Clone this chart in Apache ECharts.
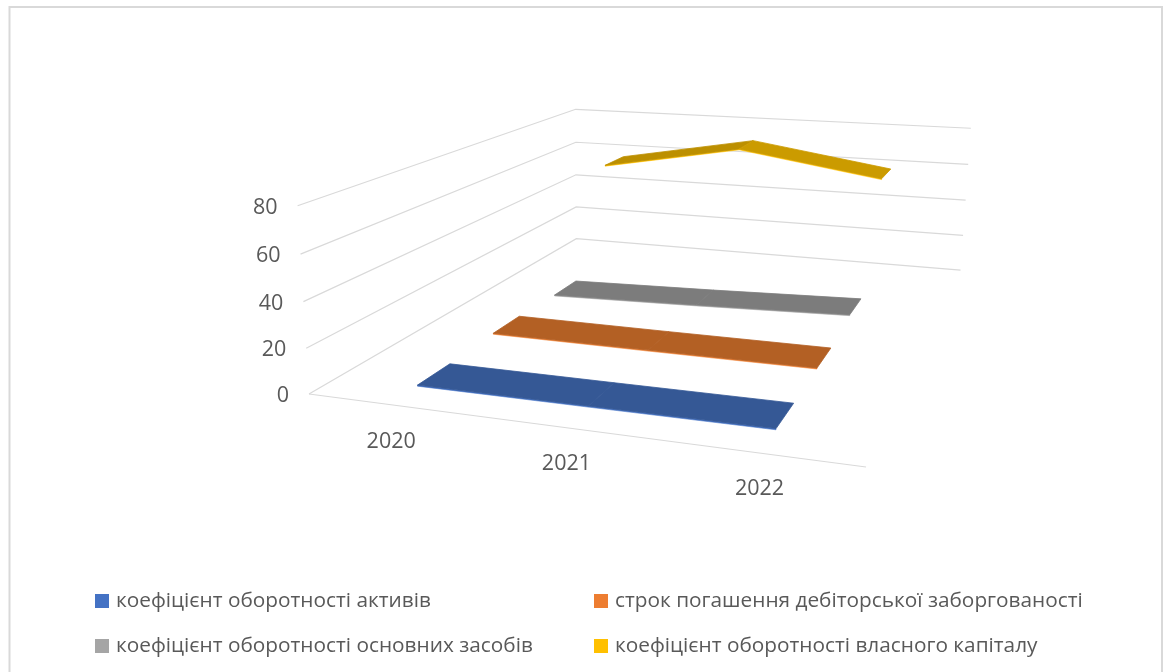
<!DOCTYPE html>
<html><head><meta charset="utf-8">
<style>html,body{margin:0;padding:0;background:#fff}#c{width:1165px;height:672px}</style>
<script src="https://cdn.jsdelivr.net/npm/echarts@6/dist/echarts.min.js"></script>
</head><body><div id="c"></div>
<script>
// ---- data ----
const categories = ['2020', '2021', '2022'];
const valueTicks = [0, 20, 40, 60, 80];
const seriesNames = ['коефіцієнт оборотності активів', 'строк погашення дебіторської заборгованості', 'коефіцієнт оборотності основних засобів', 'коефіцієнт оборотності власного капіталу'];
const assetTurnover = [1, 1.2, 1.5];
const receivableDays = [2, 2, 2.2];
const fixedAssetTurnover = [1, 3, 5.5];
const equityTurnover = [57, 70.5, 59];
const seriesValues = [assetTurnover, receivableDays, fixedAssetTurnover, equityTurnover];
// ---- style ----
const legendColors = ['#4472C4', '#ED7D31', '#A5A5A5', '#FFC000'];
const faceColors = ['#355895', '#B36024', '#7C7C7C', '#CB9B00'];
const faceDark = ['#355895', '#B36024', '#7C7C7C', '#BC8F00'];
const FONT = '"Open Sans"';
const W = 1165, H = 672;
// Box anchors: [u, depth, w] -> picture position of the chart's 3D frame
const anchors = [
  [0,0,0,309.3,394],[1,0,0,866,467],[0,1,0,576,238.7],[1,1,0,960.7,270],
  [0,0,1,297.3,205.7],[0,1,1,576,109.3],[1,1,1,970.7,128.3]
];
function solveProjection(pts){
  const A=[],b=[];
  pts.forEach(([x,y,z,sx,sy])=>{
    A.push([x,y,z,1,0,0,0,0,-sx*x,-sx*y,-sx*z]);b.push(sx);
    A.push([0,0,0,0,x,y,z,1,-sy*x,-sy*y,-sy*z]);b.push(sy);
  });
  const n=11,M=[];
  for(let i=0;i<n;i++){M[i]=[];for(let j=0;j<=n;j++){let s=0;for(let k=0;k<A.length;k++)s+=A[k][i]*(j<n?A[k][j]:b[k]);M[i][j]=s;}}
  for(let i=0;i<n;i++){
    let p=i;for(let r=i+1;r<n;r++)if(Math.abs(M[r][i])>Math.abs(M[p][i]))p=r;
    [M[i],M[p]]=[M[p],M[i]];
    for(let r=0;r<n;r++){if(r===i)continue;const f=M[r][i]/M[i][i];for(let c=i;c<=n;c++)M[r][c]-=f*M[i][c];}
  }
  return M.map((r,i)=>r[n]/r[i]);
}
const P = solveProjection(anchors);
function project(u,v,w){
  const d=P[8]*u+P[9]*v+P[10]*w+1;
  return [(P[0]*u+P[1]*v+P[2]*w+P[3])/d,(P[4]*u+P[5]*v+P[6]*w+P[7])/d];
}
// map library coord to box fractions
function frac(api,cat,val){const c=api.coord([cat,val]);return [c[0]/W,1-c[1]/H];}
const ribbonFront=0.30, ribbonBack=0.70, edge=0.006;
function ribbonItem(si){
  return function(params,api){
    const i=api.value(0), val=api.value(1);
    if(i>=categories.length-1) return {type:'group',children:[]};
    const nextVal=seriesValues[si][i+1];
    const [u0,w0]=frac(api,i,val), [u1,w1]=frac(api,i+1,nextVal);
    const v0=(si+ribbonFront)/4, v1=(si+ribbonBack)/4;
    const a=project(u0,v0,w0),b=project(u1,v0,w1),c=project(u1,v1,w1),d=project(u0,v1,w0);
    const a2=project(u0,v0,w0-edge),b2=project(u1,v0,w1-edge);
    const fill=(nextVal>=val?faceDark:faceColors)[si];
    return {type:'group',children:[
      {type:'polygon',shape:{points:[a,b,b2,a2]},style:{fill:legendColors[si],stroke:legendColors[si],lineWidth:.6}},
      {type:'polygon',shape:{points:[a,b,c,d]},style:{fill:fill,stroke:fill,lineWidth:.8}}
    ]};
  };
}
function gridItem(params,api){
  const val=api.value(1);
  const w=frac(api,0,val)[1];
  const kids=[];
  const line={stroke:'#D9D9D9',lineWidth:1.2,fill:null};
  kids.push({type:'polyline',shape:{points:[project(0,0,w),project(0,1,w),project(1,1,w)]},style:line});
  if(val===0) kids.push({type:'line',shape:{x1:project(0,0,0)[0],y1:project(0,0,0)[1],x2:project(1,0,0)[0],y2:project(1,0,0)[1]},style:{stroke:'#D9D9D9',lineWidth:1.2}});
  const p=project(0,0,w);
  kids.push({type:'text',x:p[0]-20,y:p[1]+2,style:{text:String(val),fontFamily:FONT,fontSize:21.5,fill:'#595959',align:'right',verticalAlign:'middle'}});
  return {type:'group',children:kids};
}
const catLabelOffset=[[0,37],[-1,36],[-2,36]];
function catItem(params,api){
  const i=api.value(0);
  const u=frac(api,i,0)[0];
  const p=project(u,0,0);
  return {type:'text',x:p[0]+catLabelOffset[i][0],y:p[1]+catLabelOffset[i][1],style:{text:categories[i],fontFamily:FONT,fontSize:21.5,fill:'#595959',align:'center',verticalAlign:'middle'}};
}
const series=[
  {type:'custom',name:'grid',silent:true,z:1,coordinateSystem:'cartesian2d',renderItem:gridItem,encode:{x:0,y:1},data:valueTicks.map(v=>[0,v])},
  {type:'custom',name:'cats',silent:true,z:1,coordinateSystem:'cartesian2d',renderItem:catItem,encode:{x:0,y:1},data:categories.map((c,i)=>[i,0])}
];
for(let si=3;si>=0;si--){
  series.push({type:'custom',name:seriesNames[si],z:2,coordinateSystem:'cartesian2d',renderItem:ribbonItem(si),encode:{x:0,y:1},itemStyle:{color:legendColors[si]},clip:false,
    data:seriesValues[si].map((v,i)=>[i,v])});
}
const legendText={fontFamily:FONT,fontSize:20.8,color:'#595959',lineHeight:24,padding:[2,0,0,2]};
const chart=echarts.init(document.getElementById('c'),null,{renderer:'canvas'});
chart.setOption({
  animation:false,
  backgroundColor:'#fff',
  grid:{left:0,top:0,right:0,bottom:0,containLabel:false},
  xAxis:{type:'category',data:categories,show:false},
  yAxis:{type:'value',min:0,max:80,show:false,splitLine:{show:false}},
  legend:[
    {data:[seriesNames[0],seriesNames[2]],orient:'vertical',left:95,top:588,icon:'rect',itemWidth:14,itemHeight:14,itemGap:19,textStyle:legendText,selectedMode:false,padding:0},
    {data:[seriesNames[1],seriesNames[3]],orient:'vertical',left:594,top:588,icon:'rect',itemWidth:14,itemHeight:14,itemGap:19,textStyle:legendText,selectedMode:false,padding:0}
  ],
  graphic:[{type:'rect',silent:true,z:0,shape:{x:9.5,y:7,width:1152.5,height:720},style:{fill:null,stroke:'#D9D9D9',lineWidth:2}}],
  series:series
});
</script></body></html>
